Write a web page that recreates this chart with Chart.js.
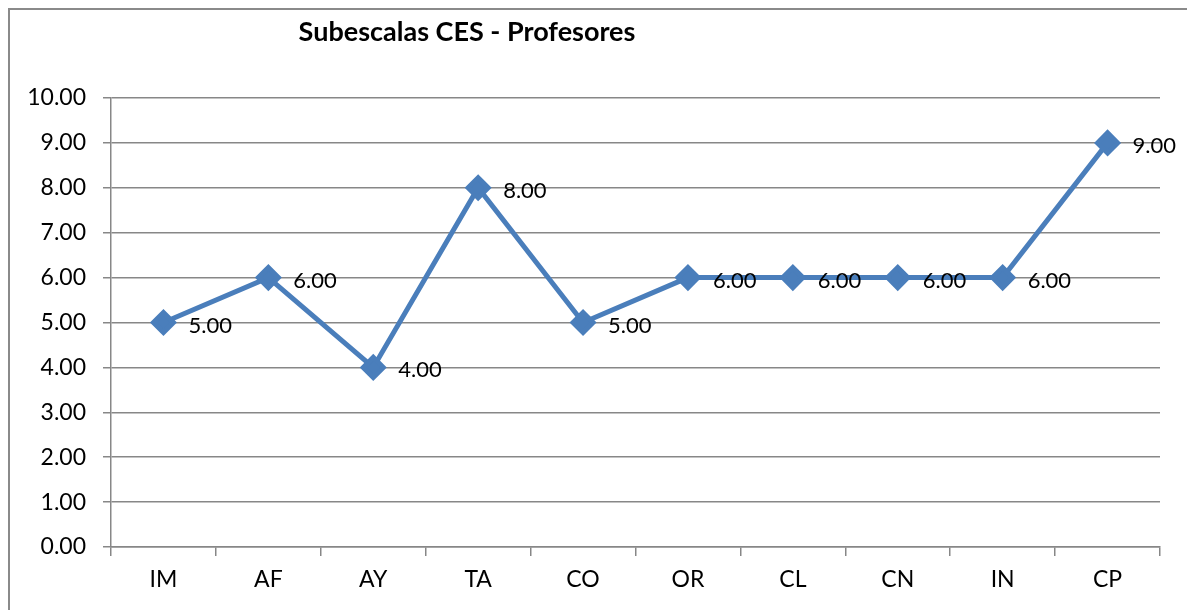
<!DOCTYPE html>
<html>
<head>
<meta charset="utf-8">
<script src="https://cdn.jsdelivr.net/npm/chart.js@4"></script>
<style>
  html, body { margin: 0; padding: 0; background: #fff; overflow: hidden; }
  #frame { position: absolute; left: 8px; top: 8px; width: 1300px; height: 700px;
           border-left: 2px solid #8a8a8a; border-top: 2px solid #8a8a8a; }
  #wrap { position: absolute; left: 0; top: 0; width: 1187px; height: 610px; }
</style>
</head>
<body>
<div id="frame"></div>
<div id="wrap"><canvas id="ces"></canvas></div>
<script>
// data
const categories = ['IM', 'AF', 'AY', 'TA', 'CO', 'OR', 'CL', 'CN', 'IN', 'CP'];
const scores = [5, 6, 4, 8, 5, 6, 6, 6, 6, 9];
const yTicks = [0, 1, 2, 3, 4, 5, 6, 7, 8, 9, 10];
const chartTitle = 'Subescalas CES - Profesores';

const FONT = "Lato, 'Liberation Sans', sans-serif";
const gray = '#878787';

// title and value labels, drawn like excel does
const excelLabels = {
  id: 'excelLabels',
  afterDatasetsDraw(chart) {
    const {ctx} = chart;
    ctx.save();
    ctx.font = 'bold 27px ' + FONT;
    ctx.fillStyle = '#000';
    ctx.textAlign = 'center';
    ctx.textBaseline = 'middle';
    ctx.fillText(chartTitle, 467, 32);

    ctx.font = '22px ' + FONT;
    ctx.textAlign = 'left';
    const pts = chart.getDatasetMeta(0).data;
    for (let i = 0; i < pts.length; i++) {
      ctx.fillText(scores[i].toFixed(2), pts[i].x + 25, pts[i].y + 3);
    }
    ctx.restore();
  }
};

const setup = {
  type: 'line',
  data: {
    labels: categories,
    datasets: [{
      data: scores,
      borderColor: '#4a7ebb',
      backgroundColor: '#4a7ebb',
      borderWidth: 5,
      pointStyle: 'rectRot',
      pointRadius: 10,
      pointHoverRadius: 10,
      tension: 0
    }]
  },
  options: {
    responsive: false,
    animation: false,
    layout: { padding: { top: 98, right: 27, left: 0, bottom: 0 } },
    plugins: {
      legend: { display: false },
      title: { display: false },
      tooltip: { enabled: false }
    },
    scales: {
      x: {
        offset: true,
        grid: { offset: true, drawOnChartArea: false, drawTicks: true, tickLength: 9, color: gray, lineWidth: 1.5 },
        border: { color: gray, width: 1.5 },
        ticks: { color: '#000', font: { family: FONT, size: 23 }, padding: 10 },
        afterFit(scale) { scale.height = 63; }
      },
      y: {
        min: 0,
        max: 10,
        afterBuildTicks(scale) { scale.ticks = yTicks.map(v => ({ value: v })); },
        grid: { color: gray, lineWidth: 1.5, tickLength: 8 },
        border: { color: gray, width: 1.5 },
        ticks: {
          color: '#000',
          font: { family: FONT, size: 23 },
          padding: 17,
          callback: v => Number(v).toFixed(2)
        },
        afterFit(scale) { scale.width = 111; }
      }
    }
  },
  plugins: [excelLabels]
};

const canvas = document.getElementById('ces');
canvas.width = 1187;
canvas.height = 610;
new Chart(canvas, setup);
</script>
</body>
</html>
